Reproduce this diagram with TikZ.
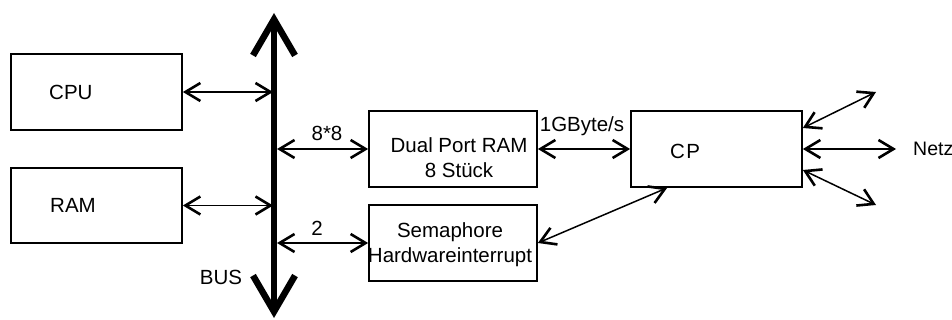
\documentclass[tikz,border=0pt]{standalone}
\usepackage{fontspec}
\setmainfont{Liberation Sans}
\usetikzlibrary{arrows.meta}
\begin{document}
\begin{tikzpicture}[x=1pt,y=-1pt,
  font=\fontsize{20.5}{25}\selectfont,
  box/.style={draw, line width=1.7pt, inner sep=0pt},
  lbl/.style={inner sep=0pt},
  conn/.style={line width=1.5pt, {Straight Barb[length=15pt,width=18pt,line width=2.6pt]}-{Straight Barb[length=15pt,width=18pt,line width=2.6pt]}},
  busline/.style={line width=6pt, {Straight Barb[length=36pt,width=42pt,line width=6.5pt]}-{Straight Barb[length=36pt,width=42pt,line width=6.5pt]}}]
\useasboundingbox (0,0) rectangle (952,320);
% boxes
\node[box, minimum width=171pt, minimum height=76pt] (cpu) at (96.5,92) {};
\node[box, minimum width=171pt, minimum height=75pt] (ram) at (96.5,205.5) {};
\node[box, minimum width=168pt, minimum height=76pt] (dpram) at (453,149) {};
\node[box, minimum width=168pt, minimum height=76pt] (sem) at (453,243) {};
\node[box, minimum width=171pt, minimum height=76pt] (cp) at (716.5,149) {};
% box texts
\node[lbl, anchor=west] (cputxt) at (49,92) {CPU};
\node[lbl, anchor=west] (ramtxt) at (50,205) {RAM};
\node[lbl, align=center] (dpramtxt) at (459,157.5) {Dual Port RAM\\8 Stück};
\node[lbl, align=center] (semtxt) at (450,245) {Semaphore\\Hardwareinterrupt};
\node[lbl] (cptxt) at (685,151) {C\kern1.5pt P};
% bus
\coordinate (bustop) at (274,13);
\coordinate (busbot) at (274,318);
\draw[busline] (bustop) -- (busbot);
\node[lbl] (bustxt) at (221,277) {BUS};
% connectors
\draw[conn] (cpu.east) -- ([xshift=-1pt]cpu.east -| bustop);
\draw[conn] (ram.east) -- ([xshift=-1pt]ram.east -| bustop);
\draw[conn] ([xshift=3pt]dpram.west -| bustop) -- (dpram.west);
\draw[conn] ([xshift=3pt]sem.west -| bustop) -- (sem.west);
\draw[conn] (dpram.east) -- (cp.west);
\draw[conn] (sem.east) -- ([xshift=37pt]cp.south west);
\node[lbl] (l88) at (327,133) {8*8};
\node[lbl] (l2) at (317,228) {2};
\node[lbl] (lgb) at (582,126) {1GByte/s};
% network
\coordinate (n1) at (876,92);
\coordinate (n2) at (896,149);
\coordinate (n3) at (876,205);
\draw[conn] ([yshift=21pt]cp.east) -- (n1);
\draw[conn] (cp.east) -- (n2);
\draw[conn] ([yshift=-21pt]cp.east) -- (n3);
\node[lbl, anchor=west, font=\fontsize{19.5}{23}\selectfont] (netz) at (913,149) {Netz};
\end{tikzpicture}
\end{document}
